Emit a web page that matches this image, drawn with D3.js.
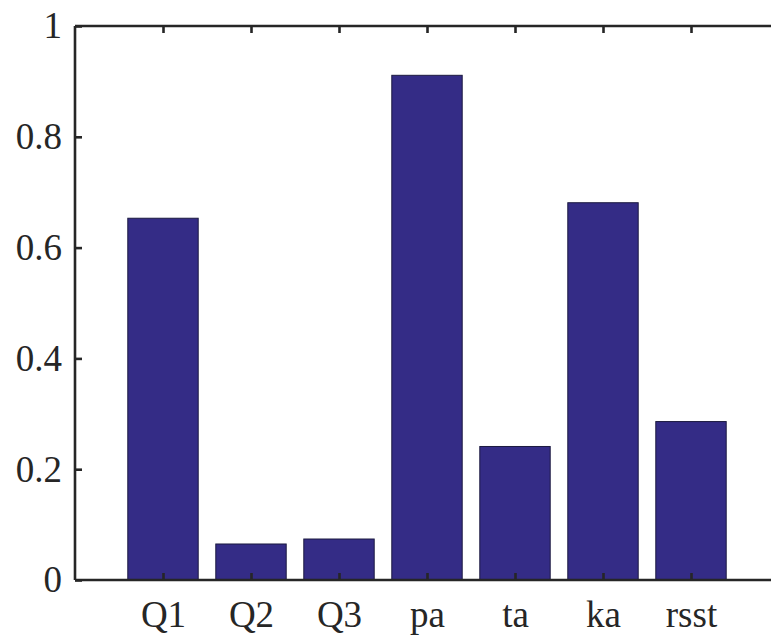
<!DOCTYPE html>
<html><head><meta charset="utf-8">
<script src="https://cdn.jsdelivr.net/npm/d3@7"></script>
<style>body{margin:0;background:#fff;} svg{display:block;}</style>
</head><body>
<svg id="c" width="771" height="641"></svg>
<script>
const categories = ["Q1","Q2","Q3","pa","ta","ka","rsst"];
const values = [0.653, 0.065, 0.074, 0.911, 0.241, 0.681, 0.286];
const yTicks = [0, 0.2, 0.4, 0.6, 0.8, 1];
const yTickLabels = ["0","0.2","0.4","0.6","0.8","1"];

(function () {
const svg = d3.select("#c");
const pL = 75, pR = 779, pT = 26, pB = 580;
const x = d3.scaleLinear().domain([0, categories.length + 1]).range([pL, pR]);
const y = d3.scaleLinear().domain([0, 1]).range([pB, pT]);
const barW = (x(1) - x(0)) * 0.8;
const axisColor = "#262626";
const font = "'Liberation Serif','Times New Roman',serif";

svg.append("g").selectAll("rect").data(values).join("rect")
  .attr("x", (d, i) => x(i + 1) - barW / 2)
  .attr("y", d => y(d))
  .attr("width", barW)
  .attr("height", d => y(0) - y(d))
  .attr("fill", "#342c86")
  .attr("stroke", "#1c1a40")
  .attr("stroke-width", 1);

const tickLen = 7;
const idx = d3.range(1, categories.length + 1);

const xb = svg.append("g").attr("transform", `translate(0,${pB})`)
  .call(d3.axisBottom(x).tickValues(idx).tickFormat((d) => categories[d - 1]).tickSize(-tickLen).tickPadding(21));
const xt = svg.append("g").attr("transform", `translate(0,${pT})`)
  .call(d3.axisTop(x).tickValues(idx).tickFormat("").tickSize(-tickLen));
const yl = svg.append("g").attr("transform", `translate(${pL},0)`)
  .call(d3.axisLeft(y).tickValues(yTicks).tickFormat((d, i) => yTickLabels[i]).tickSize(-tickLen).tickPadding(13));
const yr = svg.append("g").attr("transform", `translate(${pR},0)`)
  .call(d3.axisRight(y).tickValues(yTicks).tickFormat("").tickSize(-tickLen));

[xb, xt, yl, yr].forEach(g => {
  g.select(".domain").attr("stroke", axisColor).attr("stroke-width", 2.6);
  g.selectAll(".tick line").attr("stroke", axisColor).attr("stroke-width", 2.6);
  g.selectAll("text").attr("fill", "#262626").style("font-family", font).style("font-size", "37px");
});
xb.select(".domain").attr("d", `M${pL},0H${pR}`);
xt.select(".domain").attr("d", `M${pL},0H${pR}`);
yl.select(".domain").attr("d", `M0,${pB}V${pT}`);
yr.select(".domain").attr("d", `M0,${pB}V${pT}`);
})();
</script>
</body></html>
